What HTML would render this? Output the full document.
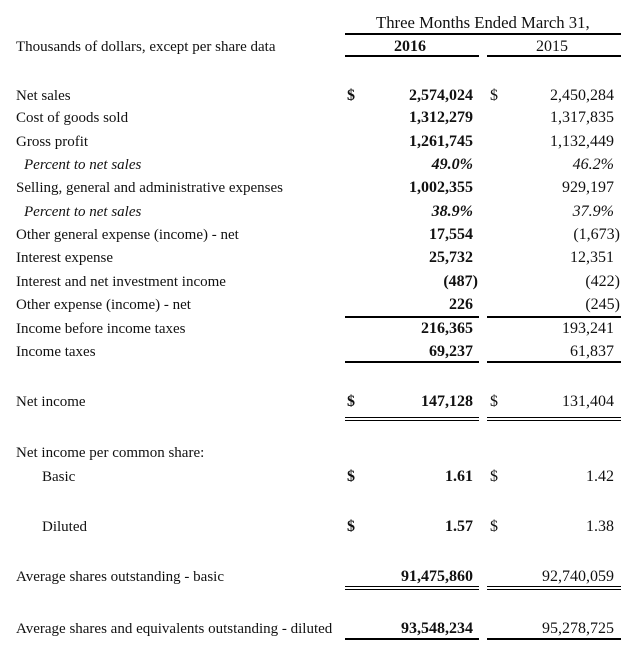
<!DOCTYPE html>
<html><head><style>
body{margin:0;width:632px;height:655px;background:#fff;position:relative;font-family:"Liberation Serif",serif;font-size:15px;color:#111;overflow:hidden}
.t{position:absolute;line-height:18px;white-space:nowrap}
.a{position:absolute;right:159px;line-height:18px;font-weight:bold;white-space:nowrap;font-size:16px}
.b{position:absolute;right:18px;line-height:18px;white-space:nowrap;font-size:16px}
.l{position:absolute;height:2px;background:#000}
i{font-style:italic}
</style></head><body>
<div class="t" style="left:376px;top:14px;font-size:16.7px">Three Months Ended March 31,</div>
<div class="t" style="left:16px;top:38px">Thousands of dollars, except per share data</div>
<div class="t" style="left:394px;top:38px;font-weight:bold;font-size:16px">2016</div>
<div class="t" style="left:536px;top:38px;font-size:16px">2015</div>
<div class="l" style="left:345px;width:276px;top:33px"></div>
<div class="l" style="left:345px;width:134px;top:55px"></div>
<div class="l" style="left:487px;width:134px;top:55px"></div>

<div class="t" style="left:16px;top:87px">Net sales</div><div class="t" style="left:347px;top:87px;font-weight:bold;font-size:16px">$</div><div class="a" style="top:87px">2,574,024</div><div class="t" style="left:490px;top:87px;font-size:16px">$</div><div class="b" style="top:87px">2,450,284</div>
<div class="t" style="left:16px;top:109px">Cost of goods sold</div><div class="a" style="top:109px">1,312,279</div><div class="b" style="top:109px">1,317,835</div>
<div class="t" style="left:16px;top:133px">Gross profit</div><div class="a" style="top:133px">1,261,745</div><div class="b" style="top:133px">1,132,449</div>
<div class="t" style="left:24px;top:156px"><i>Percent to net sales</i></div><div class="a" style="top:156px"><i>49.0%</i></div><div class="b" style="top:156px"><i>46.2%</i></div>
<div class="t" style="left:16px;top:179px">Selling, general and administrative expenses</div><div class="a" style="top:179px">1,002,355</div><div class="b" style="top:179px">929,197</div>
<div class="t" style="left:24px;top:203px"><i>Percent to net sales</i></div><div class="a" style="top:203px"><i>38.9%</i></div><div class="b" style="top:203px"><i>37.9%</i></div>
<div class="t" style="left:16px;top:226px">Other general expense (income) - net</div><div class="a" style="top:226px">17,554</div><div class="b" style="top:226px;right:12px">(1,673)</div>
<div class="t" style="left:16px;top:249px">Interest expense</div><div class="a" style="top:249px">25,732</div><div class="b" style="top:249px">12,351</div>
<div class="t" style="left:16px;top:273px">Interest and net investment income</div><div class="a" style="top:273px;right:154px">(487)</div><div class="b" style="top:273px;right:12px">(422)</div>
<div class="t" style="left:16px;top:296px">Other expense (income) - net</div><div class="a" style="top:296px">226</div><div class="b" style="top:296px;right:12px">(245)</div>
<div class="l" style="left:345px;width:134px;top:316px"></div><div class="l" style="left:487px;width:134px;top:316px"></div>
<div class="t" style="left:16px;top:320px">Income before income taxes</div><div class="a" style="top:320px">216,365</div><div class="b" style="top:320px">193,241</div>
<div class="t" style="left:16px;top:343px">Income taxes</div><div class="a" style="top:343px">69,237</div><div class="b" style="top:343px">61,837</div>
<div class="l" style="left:345px;width:134px;top:361px"></div><div class="l" style="left:487px;width:134px;top:361px"></div>
<div class="t" style="left:16px;top:393px">Net income</div><div class="t" style="left:347px;top:393px;font-weight:bold;font-size:16px">$</div><div class="a" style="top:393px">147,128</div><div class="t" style="left:490px;top:393px;font-size:16px">$</div><div class="b" style="top:393px">131,404</div>
<div class="l" style="left:345px;width:134px;top:417px;height:1px"></div><div class="l" style="left:487px;width:134px;top:417px;height:1px"></div>
<div class="l" style="left:345px;width:134px;top:420px;height:1px"></div><div class="l" style="left:487px;width:134px;top:420px;height:1px"></div>
<div class="t" style="left:16px;top:444px">Net income per common share:</div>
<div class="t" style="left:42px;top:468px">Basic</div><div class="t" style="left:347px;top:468px;font-weight:bold;font-size:16px">$</div><div class="a" style="top:468px">1.61</div><div class="t" style="left:490px;top:468px;font-size:16px">$</div><div class="b" style="top:468px">1.42</div>
<div class="t" style="left:42px;top:518px">Diluted</div><div class="t" style="left:347px;top:518px;font-weight:bold;font-size:16px">$</div><div class="a" style="top:518px">1.57</div><div class="t" style="left:490px;top:518px;font-size:16px">$</div><div class="b" style="top:518px">1.38</div>
<div class="t" style="left:16px;top:568px">Average shares outstanding - basic</div><div class="a" style="top:568px">91,475,860</div><div class="b" style="top:568px">92,740,059</div>
<div class="l" style="left:345px;width:134px;top:586px;height:1px"></div><div class="l" style="left:487px;width:134px;top:586px;height:1px"></div>
<div class="l" style="left:345px;width:134px;top:589px;height:1px"></div><div class="l" style="left:487px;width:134px;top:589px;height:1px"></div>
<div class="t" style="left:16px;top:620px">Average shares and equivalents outstanding - diluted</div><div class="a" style="top:620px">93,548,234</div><div class="b" style="top:620px">95,278,725</div>
<div class="l" style="left:345px;width:134px;top:638px"></div><div class="l" style="left:487px;width:134px;top:638px"></div>
</body></html>
